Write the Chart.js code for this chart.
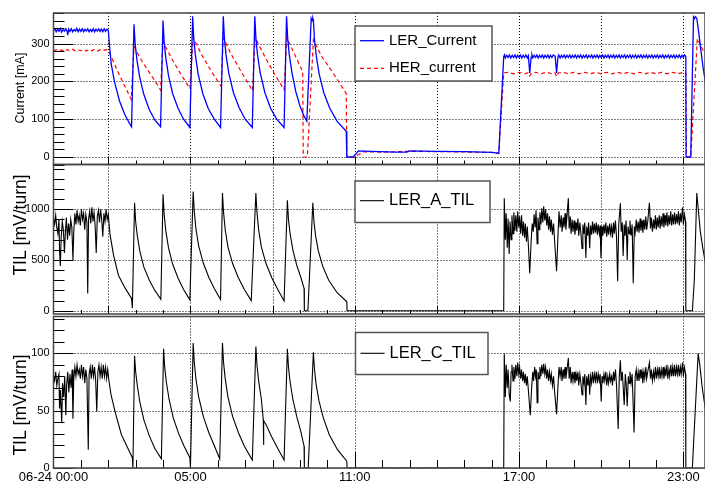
<!DOCTYPE html>
<html lang="en">
<head>
<meta charset="UTF-8">
<title>LER/HER current and TIL</title>
<script src="https://cdn.jsdelivr.net/npm/chart.js"></script>
<style>
  body { margin: 0; background: #fff; }
  #wrap { position: relative; width: 705px; height: 483px; }
  canvas { position: absolute; left: 0; top: 0; }
</style>
</head>
<body>
<div id="wrap">
  <canvas id="cCurrent" width="705" height="483"></canvas>
  <canvas id="cTilA" width="705" height="483"></canvas>
  <canvas id="cTilC" width="705" height="483"></canvas>
</div>
<script>
// time axis: hours after 06-24 00:00
const xLabelHours = [0, 5, 11, 17, 23];
const xLabels = ['06-24 00:00', '05:00', '11:00', '17:00', '23:00'];
const gridHoursTop = [2, 5, 8, 11, 14, 17, 20, 23];
const gridHoursBottom = [5, 11, 17, 23];

const yTicksCurrent = [0, 100, 200, 300];
const yTicksTilA = [0, 500, 1000];
const yTicksTilC = [0, 50, 100];

// [hour, mA]
const lerCurrent = [
  [0.00,334],[0.05,339],[0.10,331],[0.15,338],[0.20,332],[0.25,340],[0.30,330],[0.35,337],[0.40,333],[0.45,339],
  [0.50,331],[0.52,322],[0.55,338],[0.60,332],[0.65,339],[0.70,331],[0.75,337],[0.80,333],[0.85,340],[0.90,331],
  [0.95,338],[1.00,332],[1.05,339],[1.10,331],[1.15,338],[1.20,333],[1.25,339],[1.30,331],[1.35,337],[1.40,332],
  [1.45,339],[1.50,331],[1.55,338],[1.60,333],[1.65,339],[1.70,332],[1.75,338],[1.80,331],[1.85,339],[1.90,332],
  [1.95,338],[2.00,335],
  [2.05,290],[2.11,245],[2.23,198],[2.41,148],[2.60,113],[2.78,88],[2.85,80],
  [2.94,351],[2.98,300],[3.05,255],[3.15,210],[3.30,165],[3.50,125],[3.70,98],[3.91,80],
  [4.00,361],[4.04,305],[4.10,262],[4.20,215],[4.35,168],[4.55,128],[4.75,100],[4.98,78],
  [5.08,372],[5.12,315],[5.18,270],[5.28,220],[5.45,168],[5.65,128],[5.87,100],[6.10,78],
  [6.20,372],[6.24,315],[6.30,270],[6.40,222],[6.57,170],[6.78,130],[7.00,100],[7.26,78],
  [7.35,372],[7.39,315],[7.45,270],[7.55,222],[7.72,170],[7.93,128],[8.15,100],[8.42,78],
  [8.51,372],[8.55,315],[8.61,270],[8.71,222],[8.85,172],[9.00,135],[9.15,108],[9.25,95],
  [9.41,366],[9.44,360],[9.47,367],[9.49,362],[9.53,310],[9.60,265],[9.70,220],[9.87,170],[10.08,130],[10.35,95],[10.69,68],
  [10.71,0],[10.95,0],[11.13,16],[11.60,15],[12.50,13],[12.90,13],[13.00,16],[14.00,15],[15.00,14],[16.00,12],[16.26,10],
  [16.44,265],[16.47,270],[16.50,262],[16.55,269],[16.60,263],[16.65,270],[16.70,262],[16.75,269],[16.80,263],[16.85,270],
  [16.90,262],[16.95,269],[17.00,263],[17.05,270],[17.10,262],[17.15,269],[17.20,263],[17.25,270],[17.30,262],[17.34,268],
  [17.39,222],[17.44,264],[17.47,270],[17.50,262],[17.55,269],[17.60,263],[17.65,270],[17.70,262],[17.75,269],[17.80,263],
  [17.85,270],[17.90,262],[17.95,269],[18.00,263],[18.05,270],[18.10,262],[18.15,269],[18.20,263],[18.25,270],[18.32,266],
  [18.37,222],[18.42,264],[18.45,270],[18.50,262],[18.55,269],[18.60,263],[18.65,270],[18.70,262],[18.75,269],[18.80,263],
  [18.85,270],[18.90,262],[18.95,269],[19.00,263],[19.05,270],[19.10,262],[19.15,269],[19.20,263],[19.25,270],[19.30,262],
  [19.35,269],[19.40,263],[19.45,270],[19.50,262],[19.55,269],[19.60,263],[19.65,270],[19.70,262],[19.75,269],[19.80,263],
  [19.85,270],[19.90,262],[19.95,269],[20.00,263],[20.05,270],[20.10,262],[20.15,269],[20.20,263],[20.25,270],[20.30,262],
  [20.35,269],[20.40,263],[20.45,270],[20.50,262],[20.55,269],[20.60,263],[20.65,270],[20.70,262],[20.75,269],[20.80,263],
  [20.85,270],[20.90,262],[20.95,269],[21.00,263],[21.05,270],[21.10,262],[21.15,269],[21.20,263],[21.25,270],[21.30,262],
  [21.35,269],[21.40,263],[21.45,270],[21.50,262],[21.55,269],[21.60,263],[21.65,270],[21.70,262],[21.75,269],[21.80,263],
  [21.85,270],[21.90,262],[21.95,269],[22.00,263],[22.05,270],[22.10,262],[22.15,269],[22.20,263],[22.25,270],[22.30,262],
  [22.35,269],[22.40,263],[22.45,270],[22.50,262],[22.55,269],[22.60,263],[22.65,270],[22.70,262],[22.75,269],[22.80,263],
  [22.85,270],[22.90,262],[22.95,269],[23.00,263],[23.05,270],[23.09,266],
  [23.10,0],[23.27,0],[23.37,370],[23.40,366],[23.44,371],[23.49,367],[23.56,330],[23.64,282],[23.73,232],[23.82,190]
];

const herCurrent = [
  [0.0,281],[0.1,284],[0.2,280],[0.3,283],[0.4,279],[0.5,284],[0.6,281],[0.7,285],[0.8,280],[0.9,283],
  [1.0,281],[1.1,284],[1.2,280],[1.3,284],[1.4,281],[1.5,285],[1.6,280],[1.7,283],[1.8,281],[1.9,284],[2.0,282],
  [2.2,250],[2.4,218],[2.6,188],[2.84,152],
  [2.94,292],[3.2,257],[3.45,229],[3.7,202],[3.91,177],
  [4.0,305],[4.3,262],[4.6,225],[4.98,181],
  [5.1,316],[5.4,272],[5.75,228],[6.12,187],
  [6.2,315],[6.5,270],[6.9,220],[7.27,175],
  [7.36,316],[7.7,268],[8.05,222],[8.42,178],
  [8.52,315],[8.8,272],[9.1,226],[9.12,0],[9.27,0],[9.49,310],
  [9.8,265],[10.22,221],[10.69,168],[10.71,0],[10.98,0],[11.32,14],[12.0,13],[13.0,15],[14.5,14],[16.0,12],[16.26,9],
  [16.44,222],[16.6,224],[16.8,220],[17.0,224],[17.2,220],[17.33,223],[17.39,214],[17.45,222],[17.6,224],[17.8,220],
  [18.0,224],[18.2,220],[18.31,223],[18.37,213],[18.43,222],[18.6,224],[18.8,220],[19.0,224],[19.2,220],[19.4,224],
  [19.6,220],[19.8,224],[20.0,220],[20.2,224],[20.4,220],[20.6,224],[20.8,220],[21.0,224],[21.2,220],[21.4,224],
  [21.6,220],[21.8,224],[22.0,220],[22.2,224],[22.4,220],[22.6,224],[22.8,220],[23.0,224],[23.09,222],
  [23.11,0],[23.27,0],[23.51,313],[23.6,300],[23.7,285],[23.82,269]
];

// [hour, mV/turn]
const lerATil = [
  [0.00,900],[0.04,850],[0.08,940],[0.12,820],[0.16,760],[0.20,900],[0.22,600],[0.25,440],[0.28,720],[0.32,880],
  [0.36,800],[0.40,570],[0.43,760],[0.47,920],[0.51,700],[0.55,860],[0.59,740],[0.63,900],[0.67,820],[0.71,500],
  [0.74,780],[0.78,960],[0.82,850],[0.86,990],[0.90,880],[0.94,940],[0.98,840],[1.02,1000],[1.06,900],[1.10,960],
  [1.14,800],[1.18,950],[1.22,870],[1.25,170],[1.28,900],[1.32,980],[1.36,860],[1.40,1020],[1.44,880],[1.48,970],
  [1.52,840],[1.56,570],[1.60,930],[1.64,990],[1.68,870],[1.72,1000],[1.76,900],[1.80,730],[1.84,960],[1.88,880],
  [1.92,1000],[1.96,900],[2.00,950],
  [2.06,760],[2.19,550],[2.37,350],[2.60,230],[2.85,120],[2.88,25],
  [2.96,1065],[3.00,880],[3.06,740],[3.15,590],[3.30,430],[3.50,300],[3.70,200],[3.92,113],
  [4.00,1148],[4.04,950],[4.10,790],[4.20,620],[4.35,460],[4.55,320],[4.75,210],[4.98,107],
  [5.10,1175],[5.14,980],[5.20,810],[5.30,640],[5.47,470],[5.67,330],[5.88,215],[6.10,110],
  [6.17,1160],[6.21,970],[6.27,800],[6.37,630],[6.54,465],[6.75,325],[6.97,210],[7.22,100],
  [7.39,1160],[7.43,970],[7.49,800],[7.59,630],[7.76,465],[7.97,325],[8.19,210],[8.42,95],
  [8.54,1090],[8.58,900],[8.64,760],[8.74,600],[8.88,450],[9.03,330],[9.15,220],[9.16,0],[9.29,0],
  [9.47,1065],[9.51,880],[9.57,740],[9.67,590],[9.83,440],[10.05,300],[10.35,180],[10.71,88],[10.72,0],
  [16.44,0],[16.46,1110],
  [16.50,700],[16.53,960],[16.57,620],[16.60,910],[16.64,560],[16.67,880],[16.71,700],[16.74,940],[16.78,760],[16.81,970],
  [16.85,790],[16.88,940],[16.92,780],[16.95,980],[16.99,820],[17.02,930],[17.06,760],[17.09,940],[17.13,740],[17.16,880],
  [17.20,720],[17.23,860],[17.27,680],[17.30,830],[17.34,650],[17.39,370],[17.44,680],[17.48,860],
  [17.52,780],[17.55,950],[17.59,820],[17.62,990],[17.66,660],[17.69,920],[17.73,800],[17.76,970],[17.80,850],[17.83,1010],
  [17.87,870],[17.90,1030],[17.94,890],[17.97,1000],[18.01,840],[18.04,960],[18.08,800],[18.11,930],[18.15,780],[18.18,900],
  [18.22,750],[18.26,860],[18.30,680],[18.37,390],[18.43,800],[18.46,980],
  [18.50,820],[18.54,940],[18.57,780],[18.61,920],[18.64,820],[18.68,960],[18.71,800],[18.75,930],[18.80,1110],[18.83,810],
  [18.87,930],[18.90,760],[18.94,900],[18.97,780],[19.01,890],[19.04,750],[19.08,870],[19.11,790],[19.15,910],[19.18,740],
  [19.22,870],[19.26,760],[19.30,615],[19.33,850],[19.37,760],[19.40,870],[19.44,520],[19.47,830],[19.51,740],[19.54,870],
  [19.58,615],[19.61,840],[19.65,750],[19.68,880],[19.72,760],[19.75,860],[19.79,770],[19.82,870],[19.86,750],[19.89,850],
  [19.93,760],[19.96,840],[19.99,520],[20.03,830],[20.06,740],[20.10,850],[20.13,760],[20.17,870],[20.20,730],[20.24,840],
  [20.27,750],[20.31,860],[20.34,760],[20.38,830],[20.41,720],[20.45,870],[20.48,760],[20.52,890],[20.56,720],[20.60,290],
  [20.64,850],[20.70,1060],[20.73,780],[20.77,870],[20.80,540],[20.84,850],[20.87,740],[20.91,890],[20.95,500],[20.98,830],
  [21.02,760],[21.05,890],[21.09,740],[21.13,850],[21.17,270],[21.21,830],[21.24,770],[21.28,900],[21.31,780],[21.35,880],
  [21.38,770],[21.42,910],[21.45,790],[21.49,890],[21.52,770],[21.56,900],[21.59,800],[21.63,930],[21.66,800],[21.70,880],
  [21.76,1065],[21.80,810],[21.83,920],[21.87,780],[21.91,900],[21.94,810],[21.98,940],[22.01,800],[22.05,920],[22.08,820],
  [22.12,940],[22.15,810],[22.19,930],[22.22,830],[22.26,960],[22.29,820],[22.33,940],[22.36,840],[22.40,970],[22.43,830],
  [22.47,940],[22.50,850],[22.54,980],[22.57,840],[22.61,950],[22.64,850],[22.68,970],[22.71,850],[22.75,950],[22.78,860],
  [22.82,980],[22.85,840],[22.89,960],[22.92,870],[22.97,1020],[23.00,850],[23.04,950],[23.08,880],
  [23.09,0],[23.33,0],[23.40,300],[23.49,1160],[23.55,980],[23.62,780],[23.72,600],[23.82,450]
];

const lerCTil = [
  [0.00,80],[0.04,76],[0.08,84],[0.12,72],[0.16,78],[0.20,82],[0.22,52],[0.25,68],[0.30,39],[0.33,74],
  [0.37,62],[0.41,80],[0.45,46],[0.48,72],[0.52,84],[0.56,66],[0.60,82],[0.64,70],[0.68,86],[0.71,43],
  [0.74,78],[0.78,88],[0.82,80],[0.86,90],[0.90,82],[0.94,86],[0.98,78],[1.02,90],[1.06,80],[1.10,88],
  [1.14,74],[1.18,86],[1.22,78],[1.27,16],[1.30,82],[1.34,88],[1.38,78],[1.42,90],[1.46,80],[1.50,88],
  [1.54,76],[1.58,49],[1.62,84],[1.66,90],[1.70,80],[1.74,88],[1.78,78],[1.82,90],[1.86,80],[1.90,88],
  [1.94,78],[1.98,86],[2.02,77],
  [2.10,64],[2.25,49],[2.48,29],[2.72,17],[2.88,9],[2.90,0],
  [2.96,98],[3.00,84],[3.06,72],[3.15,58],[3.30,42],[3.50,28],[3.70,17],[3.94,8],
  [4.02,104],[4.06,88],[4.12,75],[4.22,60],[4.37,44],[4.57,30],[4.77,19],[4.98,9],[5.00,0],
  [5.10,109],[5.14,92],[5.20,78],[5.30,62],[5.47,45],[5.67,31],[5.88,19],[6.07,8],
  [6.17,109],[6.21,92],[6.27,78],[6.37,62],[6.54,45],[6.75,31],[6.97,19],[7.26,7],
  [7.39,106],[7.43,90],[7.49,76],[7.59,60],[7.66,42],[7.67,20],[7.68,41],[7.76,38],[7.97,27],[8.19,17],[8.42,7],
  [8.54,104],[8.58,88],[8.64,75],[8.74,60],[8.88,45],[9.03,32],[9.15,19],[9.16,0],[9.30,0],
  [9.49,101],[9.53,86],[9.59,73],[9.69,59],[9.85,44],[10.07,29],[10.37,16],[10.71,6],[10.72,0],
  [16.44,0],[16.46,100],
  [16.50,62],[16.53,90],[16.57,70],[16.60,86],[16.64,64],[16.68,58],[16.71,84],[16.74,90],[16.78,76],[16.81,88],
  [16.85,78],[16.88,90],[16.92,80],[16.95,92],[16.99,82],[17.02,88],[17.06,78],[17.09,86],[17.13,76],[17.16,84],
  [17.20,74],[17.23,82],[17.27,72],[17.30,80],[17.34,68],[17.41,46],[17.46,70],[17.50,84],[17.53,76],[17.57,88],
  [17.60,80],[17.63,86],[17.66,57],[17.69,84],[17.73,78],[17.76,88],[17.80,80],[17.83,90],[17.87,82],[17.90,91],
  [17.94,82],[17.97,88],[18.01,78],[18.04,86],[18.08,76],[18.11,84],[18.15,76],[18.18,82],[18.22,72],[18.26,80],
  [18.30,66],[18.37,47],[18.43,76],[18.46,88],[18.50,80],[18.54,88],[18.57,76],[18.61,86],[18.64,78],[18.68,88],
  [18.71,78],[18.75,86],[18.80,96],[18.83,78],[18.87,88],[18.90,74],[18.94,84],[18.97,76],[19.01,84],[19.04,74],
  [19.08,82],[19.11,76],[19.15,84],[19.18,72],[19.22,82],[19.26,74],[19.30,64],[19.33,80],[19.37,74],[19.40,82],
  [19.44,55],[19.47,80],[19.51,72],[19.54,82],[19.58,64],[19.61,80],[19.65,74],[19.68,84],[19.72,74],[19.75,82],
  [19.79,76],[19.82,84],[19.86,74],[19.89,82],[19.93,76],[19.96,82],[20.00,58],[20.03,80],[20.06,74],[20.10,82],
  [20.13,76],[20.17,84],[20.20,72],[20.24,80],[20.27,74],[20.31,82],[20.34,76],[20.38,80],[20.41,72],[20.45,84],
  [20.48,76],[20.52,86],[20.56,72],[20.62,34],[20.66,80],[20.70,94],[20.73,76],[20.77,84],[20.84,55],[20.88,82],
  [20.91,74],[20.95,54],[20.99,80],[21.02,74],[21.05,84],[21.09,74],[21.13,82],[21.20,31],[21.24,80],[21.28,86],
  [21.31,76],[21.35,84],[21.38,76],[21.42,86],[21.45,78],[21.49,84],[21.52,74],[21.56,84],[21.59,78],[21.63,88],
  [21.66,78],[21.70,84],[21.76,92],[21.80,78],[21.83,86],[21.87,76],[21.91,84],[21.94,78],[21.98,88],[22.01,78],
  [22.05,86],[22.08,80],[22.12,88],[22.15,78],[22.19,86],[22.22,80],[22.26,88],[22.29,78],[22.33,86],[22.36,80],
  [22.40,90],[22.43,78],[22.47,86],[22.50,80],[22.54,90],[22.57,80],[22.61,88],[22.64,80],[22.68,90],[22.71,80],
  [22.75,88],[22.78,82],[22.82,90],[22.85,80],[22.89,88],[22.92,82],[22.97,92],[23.00,80],[23.04,88],[23.08,82],
  [23.09,0],[23.33,0],[23.37,20],[23.54,100],[23.60,90],[23.68,72],[23.75,60],[23.82,49]
];

const FONT = "'Liberation Sans', Arial, Helvetica, sans-serif";
const X_MAX = 23.79;

// ROOT-like frame: dotted grid, inward ticks, box, legend box, axis title
const rootFrame = {
  id: 'rootFrame',
  beforeDatasetsDraw(chart, args, o) {
    const { ctx, chartArea: a, scales: { x, y } } = chart;
    ctx.save();
    ctx.strokeStyle = '#000';
    ctx.lineWidth = 1;
    ctx.setLineDash([1, 2]);
    ctx.beginPath();
    o.xGrid.forEach(h => {
      const px = Math.round(x.getPixelForValue(h)) + 0.5;
      ctx.moveTo(px, a.top); ctx.lineTo(px, a.bottom);
    });
    o.yGrid.forEach(v => {
      const py = Math.round(y.getPixelForValue(v)) + 0.5;
      ctx.moveTo(a.left, py); ctx.lineTo(a.right, py);
    });
    ctx.stroke();
    ctx.restore();
  },
  afterDraw(chart, args, o) {
    const { ctx, chartArea: a, scales: { x, y } } = chart;
    ctx.save();
    ctx.strokeStyle = '#000';
    ctx.lineWidth = 1;
    ctx.beginPath();
    for (let h = 1; h <= x.max; h++) {
      const len = o.xGrid.includes(h) ? o.xMajorLen : o.xMinorLen;
      const px = Math.round(x.getPixelForValue(h)) + 0.5;
      ctx.moveTo(px, a.bottom); ctx.lineTo(px, a.bottom - len);
    }
    for (let v = o.yMinorFrom; v <= y.max; v += o.yMinorStep) {
      const len = o.yGrid.includes(v) ? 20 : 11;
      const py = Math.round(y.getPixelForValue(v)) + 0.5;
      ctx.moveTo(a.left, py); ctx.lineTo(a.left + len, py);
    }
    ctx.stroke();

    ctx.strokeStyle = '#444';
    ctx.lineWidth = 1.5;
    ctx.strokeRect(a.left, a.top, a.right - a.left, a.bottom - a.top);

    // legend
    const L = o.legend;
    ctx.fillStyle = '#fff';
    ctx.fillRect(L.x, L.y, L.w, L.h);
    ctx.strokeStyle = '#555';
    ctx.lineWidth = 1.5;
    ctx.strokeRect(L.x, L.y, L.w, L.h);
    ctx.font = L.font + 'px ' + FONT;
    ctx.textBaseline = 'middle';
    chart.data.datasets.forEach((ds, i) => {
      const ry = L.rows[i];
      ctx.strokeStyle = ds.borderColor;
      ctx.lineWidth = ds.borderWidth;
      ctx.setLineDash(ds.borderDash || []);
      ctx.beginPath();
      ctx.moveTo(L.x + 5, ry); ctx.lineTo(L.x + 29, ry);
      ctx.stroke();
      ctx.setLineDash([]);
      ctx.fillStyle = '#000';
      ctx.fillText(ds.label, L.x + 34, ry);
    });

    // y title
    ctx.translate(21, o.title.y);
    ctx.rotate(-Math.PI / 2);
    ctx.textAlign = 'center';
    ctx.font = o.title.size + 'px ' + FONT;
    ctx.fillStyle = '#000';
    ctx.fillText(o.title.text, 0, 0);
    ctx.restore();
  }
};

function panel(id, p) {
  return new Chart(document.getElementById(id), {
    type: 'line',
    data: {
      datasets: p.series.map(s => ({
        label: s.label,
        data: s.data.map(d => ({ x: d[0], y: d[1] })),
        borderColor: s.color,
        borderWidth: s.width,
        borderDash: s.dash || [],
        pointRadius: 0,
        fill: false,
        tension: 0
      }))
    },
    options: {
      responsive: false,
      animation: false,
      events: [],
      layout: { padding: { top: p.top, bottom: p.bottom, left: 0, right: 0 } },
      plugins: {
        legend: { display: false },
        tooltip: { enabled: false },
        rootFrame: p.frame
      },
      scales: {
        x: {
          type: 'linear',
          min: 0,
          max: X_MAX,
          display: p.showX,
          grid: { display: false, drawTicks: false },
          border: { display: false },
          afterBuildTicks: s => { s.ticks = xLabelHours.map(v => ({ value: v })); },
          afterFit: s => { if (p.showX) s.height = 15; },
          ticks: {
            autoSkip: false,
            maxRotation: 0,
            padding: 2,
            color: '#000',
            font: { family: FONT, size: 13 },
            callback: (v, i) => xLabels[i]
          }
        },
        y: {
          min: p.yMin,
          max: p.yMax,
          grid: { display: false, drawTicks: false },
          border: { display: false },
          afterBuildTicks: s => { s.ticks = p.yTicks.map(v => ({ value: v })); },
          afterFit: s => { s.width = 53.5; },
          ticks: {
            autoSkip: false,
            padding: 4,
            color: '#000',
            font: { family: FONT, size: 11 },
            callback: v => String(v)
          }
        }
      }
    },
    plugins: [rootFrame]
  });
}

panel('cCurrent', {
  top: 13, bottom: 318.5, showX: false,
  yMin: -19.8, yMax: 380.7, yTicks: yTicksCurrent,
  series: [
    { label: 'LER_Current', data: lerCurrent, color: '#0000ff', width: 1.3 },
    { label: 'HER_current', data: herCurrent, color: '#ff0000', width: 1.2, dash: [4, 3] }
  ],
  frame: {
    xGrid: gridHoursTop, xMajorLen: 8, xMinorLen: 4,
    yGrid: yTicksCurrent, yMinorFrom: -20, yMinorStep: 20,
    title: { text: 'Current [mA]', y: 88, size: 12.5 },
    legend: { x: 355, y: 26, w: 137, h: 55, font: 15, rows: [40.7, 68.3] }
  }
});

panel('cTilA', {
  top: 164.5, bottom: 169, showX: false,
  yMin: -32.5, yMax: 1442, yTicks: yTicksTilA,
  series: [
    { label: 'LER_A_TIL', data: lerATil, color: '#000000', width: 1.1 }
  ],
  frame: {
    xGrid: gridHoursTop, xMajorLen: 8, xMinorLen: 4,
    yGrid: yTicksTilA, yMinorFrom: 0, yMinorStep: 100,
    title: { text: 'TIL [mV/turn]', y: 225, size: 17.5 },
    legend: { x: 355, y: 181, w: 135, h: 41.5, font: 16.5, rows: [200.7] }
  }
});

panel('cTilC', {
  top: 316.5, bottom: 0, showX: true,
  yMin: 0, yMax: 132.2, yTicks: yTicksTilC,
  series: [
    { label: 'LER_C_TIL', data: lerCTil, color: '#000000', width: 1.1 }
  ],
  frame: {
    xGrid: gridHoursBottom, xMajorLen: 16, xMinorLen: 8,
    yGrid: yTicksTilC, yMinorFrom: 0, yMinorStep: 10,
    title: { text: 'TIL [mV/turn]', y: 405, size: 17.5 },
    legend: { x: 355.5, y: 332.5, w: 132.5, h: 42, font: 16.5, rows: [353.3] }
  }
});
</script>
</body>
</html>
